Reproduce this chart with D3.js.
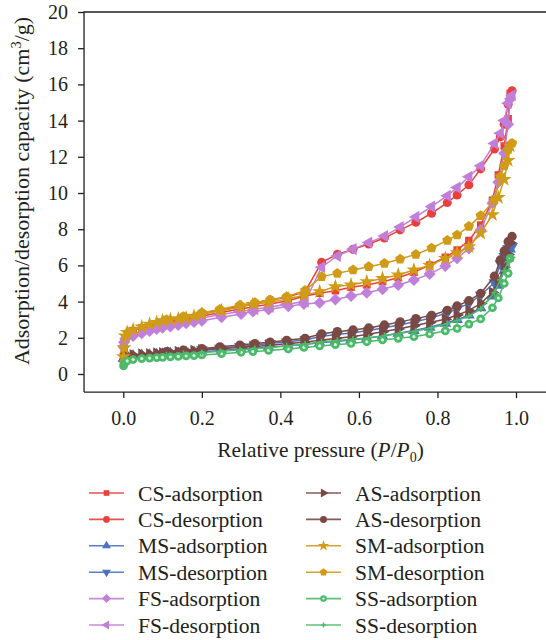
<!DOCTYPE html>
<html><head><meta charset="utf-8">
<script src="https://cdn.jsdelivr.net/npm/d3@7"></script>
<style>
body{margin:0;background:#fff}
svg{display:block}
text{font-family:"Liberation Serif","Times New Roman",serif;fill:#231f20}
</style>
</head><body>
<svg id="chart" width="546" height="640"></svg>
<script>
// ---------- data ----------
const adsX = [0.0005,0.002,0.005,0.01,0.025,0.047,0.067,0.085,0.10,0.12,0.14,0.16,0.18,0.20,0.25,0.30,0.33,0.37,0.42,0.46,0.50,0.54,0.58,0.62,0.66,0.70,0.74,0.78,0.82,0.85,0.88,0.91,0.94,0.955,0.97,0.98,0.985];
const desX = [0.99,0.98,0.97,0.96,0.945,0.91,0.88,0.85,0.825,0.785,0.745,0.705,0.665,0.625,0.585,0.545,0.505,0.463,0.416,0.374,0.335,0.297,0.246,0.20,0.153,0.11];

const csAds = [1.0,1.5,2.0,2.2,2.4,2.55,2.65,2.75,2.85,2.9,2.95,3.05,3.1,3.2,3.4,3.6,3.7,3.85,4.05,4.3,4.46,4.6,4.79,4.92,5.1,5.32,5.62,6.02,6.45,6.85,7.38,8.23,9.6,11.0,12.6,14.1,15.5];
const csDes = [15.65,14.9,13.8,13.1,12.43,11.33,10.45,9.89,9.47,8.88,8.38,7.96,7.51,7.18,6.89,6.61,6.17,4.55,4.24,4.09,3.9,3.76,3.54,3.35,3.15,2.95];
const msAds = [0.85,0.9,0.95,0.98,1.0,1.03,1.05,1.08,1.1,1.13,1.15,1.18,1.2,1.23,1.3,1.38,1.42,1.48,1.56,1.63,1.72,1.8,1.88,1.97,2.1,2.25,2.4,2.58,2.8,3.0,3.25,3.65,4.3,4.9,5.7,6.4,6.9];
const msDes = [7.05,6.94,6.5,6.1,5.05,4.35,3.9,3.6,3.38,3.1,2.9,2.72,2.55,2.4,2.28,2.18,2.08,1.88,1.78,1.68,1.6,1.52,1.43,1.34,1.26,1.18];
const fsAds = [1.5,1.75,1.95,2.05,2.1,2.25,2.38,2.48,2.56,2.62,2.71,2.8,2.87,2.94,3.13,3.31,3.45,3.57,3.74,3.87,3.94,4.12,4.31,4.49,4.68,4.92,5.19,5.52,5.97,6.39,6.94,7.96,9.43,10.6,12.2,13.8,15.2];
const fsDes = [15.4,14.96,14.0,13.3,12.74,11.5,10.9,10.3,9.85,9.25,8.68,8.12,7.62,7.26,6.9,6.52,5.9,4.0,3.85,3.7,3.58,3.45,3.27,3.1,2.92,2.75];
const asAds = [0.9,0.95,1.0,1.02,1.05,1.08,1.1,1.14,1.16,1.2,1.22,1.25,1.28,1.32,1.4,1.48,1.52,1.58,1.68,1.76,1.86,1.96,2.06,2.18,2.34,2.49,2.66,2.84,3.03,3.26,3.5,3.9,4.5,5.1,5.9,6.6,7.25];
const asDes = [7.6,7.31,6.8,6.3,5.4,4.45,4.05,3.76,3.52,3.24,3.06,2.88,2.71,2.54,2.43,2.34,2.22,1.97,1.86,1.76,1.68,1.6,1.5,1.4,1.32,1.24];
const smAds = [0.95,1.45,2.1,2.3,2.45,2.6,2.75,2.85,2.95,3.0,3.05,3.1,3.2,3.3,3.5,3.7,3.85,3.95,4.15,4.35,4.55,4.83,4.92,5.1,5.28,5.47,5.75,6.0,6.39,6.7,7.03,7.78,8.8,9.75,10.75,11.8,12.6];
const smDes = [12.75,12.4,11.5,10.9,9.6,8.75,8.16,7.68,7.38,6.96,6.61,6.35,6.11,5.93,5.75,5.56,5.38,4.62,4.27,4.09,3.94,3.81,3.57,3.39,3.17,3.0];
const ssAds = [0.45,0.55,0.65,0.72,0.8,0.85,0.88,0.9,0.92,0.95,0.97,1.0,1.02,1.05,1.12,1.2,1.24,1.3,1.38,1.47,1.55,1.62,1.69,1.78,1.88,1.97,2.06,2.21,2.38,2.52,2.76,3.04,3.66,4.2,5.0,5.56,6.39];
const ssDes = [6.45,6.2,5.7,5.2,4.5,3.6,3.2,2.95,2.78,2.55,2.38,2.25,2.12,2.0,1.92,1.85,1.78,1.65,1.55,1.47,1.4,1.33,1.25,1.18,1.12,1.05];

const seriesNames = ["CS-adsorption","CS-desorption","MS-adsorption","MS-desorption","FS-adsorption","FS-desorption","AS-adsorption","AS-desorption","SM-adsorption","SM-desorption","SS-adsorption","SS-desorption"];
const xTicks = [0.0,0.2,0.4,0.6,0.8,1.0];
const yTicks = [0,2,4,6,8,10,12,14,16,18,20];

// ---------- styles ----------
const colors = {CS:"#e8403a",MS:"#4a72c0",FS:"#c17fda",AS:"#7b4944",SM:"#d09b17",SS:"#4cba6a"};

const pentagon = {draw(ctx,size){const r=Math.sqrt(size/2.38);for(let k=0;k<5;k++){const a=-Math.PI/2+k*2*Math.PI/5;const px=r*Math.cos(a),py=r*Math.sin(a);k?ctx.lineTo(px,py):ctx.moveTo(px,py);}ctx.closePath();}};
const squareDiamond = {draw(ctx,size){const r=Math.sqrt(size/2);ctx.moveTo(0,-r);ctx.lineTo(r,0);ctx.lineTo(0,r);ctx.lineTo(-r,0);ctx.closePath();}};

const series = [
  {name:seriesNames[0],x:adsX,y:csAds,c:colors.CS,sym:d3.symbolSquare,rot:0,size:56},
  {name:seriesNames[1],x:desX,y:csDes,c:colors.CS,sym:d3.symbolCircle,rot:0,size:64},
  {name:seriesNames[2],x:adsX,y:msAds,c:colors.MS,sym:d3.symbolTriangle,rot:0,size:60},
  {name:seriesNames[3],x:desX,y:msDes,c:colors.MS,sym:d3.symbolTriangle,rot:180,size:60},
  {name:seriesNames[4],x:adsX,y:fsAds,c:colors.FS,sym:squareDiamond,rot:0,size:72},
  {name:seriesNames[5],x:desX,y:fsDes,c:colors.FS,sym:d3.symbolTriangle,rot:-90,size:64},
  {name:seriesNames[6],x:adsX,y:asAds,c:colors.AS,sym:d3.symbolTriangle,rot:90,size:64},
  {name:seriesNames[7],x:desX,y:asDes,c:colors.AS,sym:d3.symbolCircle,rot:0,size:68},
  {name:seriesNames[8],x:adsX,y:smAds,c:colors.SM,sym:d3.symbolStar,rot:0,size:70},
  {name:seriesNames[9],x:desX,y:smDes,c:colors.SM,sym:pentagon,rot:0,size:68},
  {name:seriesNames[10],x:adsX,y:ssAds,c:colors.SS,sym:d3.symbolCircle,rot:0,size:60,ring:true},
  {name:seriesNames[11],x:desX,y:ssDes,c:colors.SS,sym:null,rot:0,size:0,plus:true}
];

// ---------- scales ----------
const svg = d3.select("#chart");
const x = d3.scaleLinear().domain([0,1]).range([123.3,516]);
const y = d3.scaleLinear().domain([0,20]).range([374,12]);
const x0 = x(-0.1), x1 = x(1.1), yTop = y(20), yBot = y(-1);

// frame
svg.append("path").attr("d",`M${x0},${yBot}V${yTop}H${x1}`).attr("fill","none").attr("stroke","#231f20").attr("stroke-width",1.3);

const xAxis = svg.append("g").attr("transform",`translate(0,${yBot})`)
  .call(d3.axisBottom(x).tickValues(xTicks).tickFormat(d3.format(".1f")).tickSize(6).tickPadding(13));
xAxis.select(".domain").attr("d",`M${x0},0H${x1}`);
const yAxis = svg.append("g").attr("transform",`translate(${x0},0)`)
  .call(d3.axisLeft(y).tickValues(yTicks).tickFormat(d3.format("d")).tickSize(6).tickPadding(10));
yAxis.select(".domain").remove();
svg.selectAll(".tick text").attr("font-size",20).attr("font-family","Liberation Serif").attr("fill","#231f20");
svg.selectAll(".tick line,.domain").attr("stroke","#231f20").attr("stroke-width",1.3);

// axis titles
const xt = svg.append("text").attr("x",320.5).attr("y",457).attr("text-anchor","middle").attr("font-size",21.4);
xt.append("tspan").text("Relative pressure (");
xt.append("tspan").attr("font-style","italic").text("P");
xt.append("tspan").text("/");
xt.append("tspan").attr("font-style","italic").text("P");
xt.append("tspan").attr("font-size",14).attr("dy",5).text("0");
xt.append("tspan").attr("dy",-5).text(")");

const yt = svg.append("text").attr("transform","translate(29,191) rotate(-90)").attr("text-anchor","middle").attr("font-size",22);
yt.append("tspan").text("Adsorption/desorption capacity (cm");
yt.append("tspan").attr("font-size",14.5).attr("dy",-8).text("3");
yt.append("tspan").attr("dy",8).text("/g)");

// ---------- marks ----------
const line = d3.line().x(d=>x(d[0])).y(d=>y(d[1]));
function drawMarker(g, s, scale){
  if(s.plus){
    const r=3.2*scale;
    g.append("path").attr("d",`M${-r},0H${r}M0,${-r}V${r}`).attr("stroke",s.c).attr("stroke-width",1.6);
    return;
  }
  g.append("path").attr("d",d3.symbol(s.sym,s.size*scale*scale)()).attr("transform",`rotate(${s.rot})`).attr("fill",s.c);
  if(s.ring) g.append("circle").attr("r",1.6*scale).attr("fill","#d8f0dd");
}
series.forEach(s=>{
  const pts = s.x.map((v,i)=>[v,s.y[i]]);
  const g = svg.append("g");
  g.append("path").attr("d",line(pts)).attr("fill","none").attr("stroke",s.c).attr("stroke-width",1.5);
  pts.forEach(p=>{
    const m = g.append("g").attr("transform",`translate(${x(p[0])},${y(p[1])})`);
    drawMarker(m,s,1);
  });
});

// ---------- legend ----------
const legX = [89,306], legRow0 = 493, legDy = 26.4;
series.forEach((s,i)=>{
  const col = Math.floor(i/6), row = i%6;
  const lx = legX[col], ly = legRow0 + row*legDy;
  const g = svg.append("g");
  g.append("line").attr("x1",lx).attr("x2",lx+35).attr("y1",ly).attr("y2",ly).attr("stroke",s.c).attr("stroke-width",1.6).attr("opacity",0.9);
  const m = g.append("g").attr("transform",`translate(${lx+17.5},${ly})`);
  drawMarker(m,s,0.75);
  g.append("text").attr("x",lx+49).attr("y",ly).attr("dy","0.35em").attr("font-size",21.6).text(s.name);
});
</script>
</body></html>
